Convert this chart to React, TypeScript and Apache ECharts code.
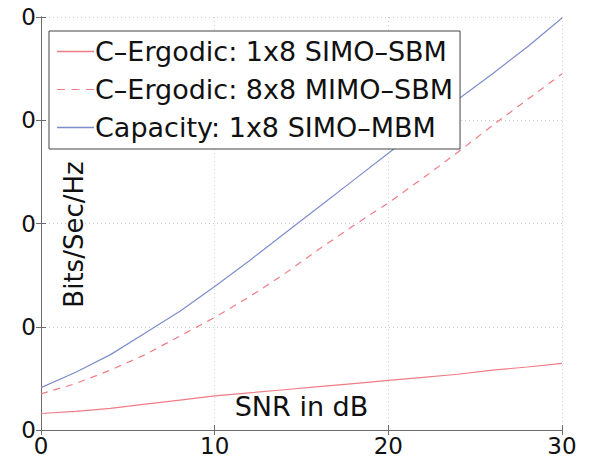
import React, { useEffect, useRef } from "react";
import * as echarts from "echarts";

// SNR axis (dB)
const snrDb = [0, 2, 4, 6, 8, 10, 12, 14, 16, 18, 20, 22, 24, 26, 28, 30];

// Series values (Bits/Sec/Hz)
const ergodicSimoSbm = [1.6, 1.8, 2.1, 2.5, 2.9, 3.3, 3.6, 3.9, 4.2, 4.5, 4.8, 5.1, 5.4, 5.8, 6.1, 6.45];
const ergodicMimoSbm = [3.5, 4.5, 5.8, 7.3, 9.1, 10.9, 12.9, 15.1, 17.5, 19.8, 22.0, 24.4, 26.9, 29.5, 32.0, 34.5];
const capacitySimoMbm = [4.1, 5.6, 7.3, 9.4, 11.5, 13.9, 16.4, 19.0, 21.6, 24.2, 26.8, 29.4, 32.0, 34.5, 37.1, 39.9];

const seriesNames = [
  "C\u2013Ergodic: 1x8 SIMO\u2013SBM",
  "C\u2013Ergodic: 8x8 MIMO\u2013SBM",
  "Capacity: 1x8 SIMO\u2013MBM",
];

const xTicks = { min: 0, max: 30, interval: 10 };
const yTicks = { min: 0, max: 40, interval: 10 };

const RED = "#f07c85";
const BLUE = "#7e8dcb";
const FONT = "DejaVu Sans";

const pair = (ys: number[]) => snrDb.map((x, i) => [x, ys[i]]);

export default function App() {
  const ref = useRef<HTMLDivElement>(null);

  useEffect(() => {
    if (!ref.current) return;
    const chart = echarts.init(ref.current, undefined, { renderer: "svg" });
    const frame = "#6b6b6b";
    const grid = { left: 41, right: 29, top: 17, bottom: 33 };
    const hiddenAxisCommon = {
      axisLine: { show: true, lineStyle: { color: frame, width: 1 } },
      axisTick: { show: true, inside: true, length: 5, lineStyle: { color: frame } },
      axisLabel: { show: false },
      splitLine: { show: false },
    };
    const dash = [7, 6];
    const solidIcon = "rect";
    const dashedIcon = "path://M0,0h7v1h-7zM13,0h7v1h-7zM26,0h7v1h-7z";
    chart.setOption({
      animation: false,
      backgroundColor: "#ffffff",
      grid: { ...grid, show: false },
      legend: {
        orient: "vertical",
        left: 49,
        top: 31,
        padding: [7, 7, 8, 8],
        itemGap: 11,
        itemWidth: 37,
        itemHeight: 1.3,
        backgroundColor: "#ffffff",
        borderColor: "#444444",
        borderWidth: 1,
        borderRadius: 0,
        textStyle: { fontFamily: FONT, fontSize: 27, color: "#111111", padding: [0, 0, 0, -4] },
        data: [
          { name: seriesNames[0], icon: solidIcon, itemStyle: { color: RED } },
          { name: seriesNames[1], icon: dashedIcon, itemStyle: { color: RED } },
          { name: seriesNames[2], icon: solidIcon, itemStyle: { color: BLUE } },
        ],
        z: 10,
      },
      xAxis: [
        {
          type: "value",
          min: xTicks.min,
          max: xTicks.max,
          interval: xTicks.interval,
          name: "SNR in dB",
          nameLocation: "middle",
          nameGap: -37,
          nameTextStyle: { fontFamily: FONT, fontSize: 27, color: "#111111" },
          axisLine: { show: true, lineStyle: { color: frame, width: 1 } },
          axisTick: { show: true, inside: true, length: 5, lineStyle: { color: frame } },
          axisLabel: { fontFamily: FONT, fontSize: 23, color: "#111111", margin: 4 },
          splitLine: { show: true, lineStyle: { color: "#cfcfcf", type: [1, 3], width: 1 } },
        },
        {
          type: "value",
          position: "top",
          min: xTicks.min,
          max: xTicks.max,
          interval: xTicks.interval,
          ...hiddenAxisCommon,
        },
      ],
      yAxis: [
        {
          type: "value",
          min: yTicks.min,
          max: yTicks.max,
          interval: yTicks.interval,
          name: "Bits/Sec/Hz",
          nameLocation: "middle",
          nameGap: -46,
          nameRotate: 90,
          nameTextStyle: { fontFamily: FONT, fontSize: 26, color: "#111111", padding: [0, 22, 0, 0] },
          axisLine: { show: true, lineStyle: { color: frame, width: 1 } },
          axisTick: { show: true, inside: true, length: 5, lineStyle: { color: frame } },
          // the source figure's y tick labels are clipped: only the final digit shows
          axisLabel: {
            fontFamily: FONT,
            fontSize: 23,
            color: "#111111",
            margin: 5,
            formatter: (v: number) => String(v).slice(-1),
          },
          splitLine: { show: true, lineStyle: { color: "#cfcfcf", type: [1, 3], width: 1 } },
        },
        {
          type: "value",
          position: "right",
          min: yTicks.min,
          max: yTicks.max,
          interval: yTicks.interval,
          ...hiddenAxisCommon,
        },
      ],
      series: [
        {
          name: seriesNames[0],
          type: "line",
          data: pair(ergodicSimoSbm),
          symbol: "none",
          color: RED,
          lineStyle: { color: RED, width: 1.2, type: "solid" },
          itemStyle: { color: RED },
        },
        {
          name: seriesNames[1],
          type: "line",
          data: pair(ergodicMimoSbm),
          symbol: "none",
          color: RED,
          lineStyle: { color: RED, width: 1.2, type: dash },
          itemStyle: { color: RED },
        },
        {
          name: seriesNames[2],
          type: "line",
          data: pair(capacitySimoMbm),
          symbol: "none",
          color: BLUE,
          lineStyle: { color: BLUE, width: 1.2, type: "solid" },
          itemStyle: { color: BLUE },
        },
      ],
    });
    return () => chart.dispose();
  }, []);

  return (
    <div
      ref={ref}
      style={{ position: "fixed", left: 0, top: 0, width: 591, height: 463, background: "#fff" }}
    />
  );
}
